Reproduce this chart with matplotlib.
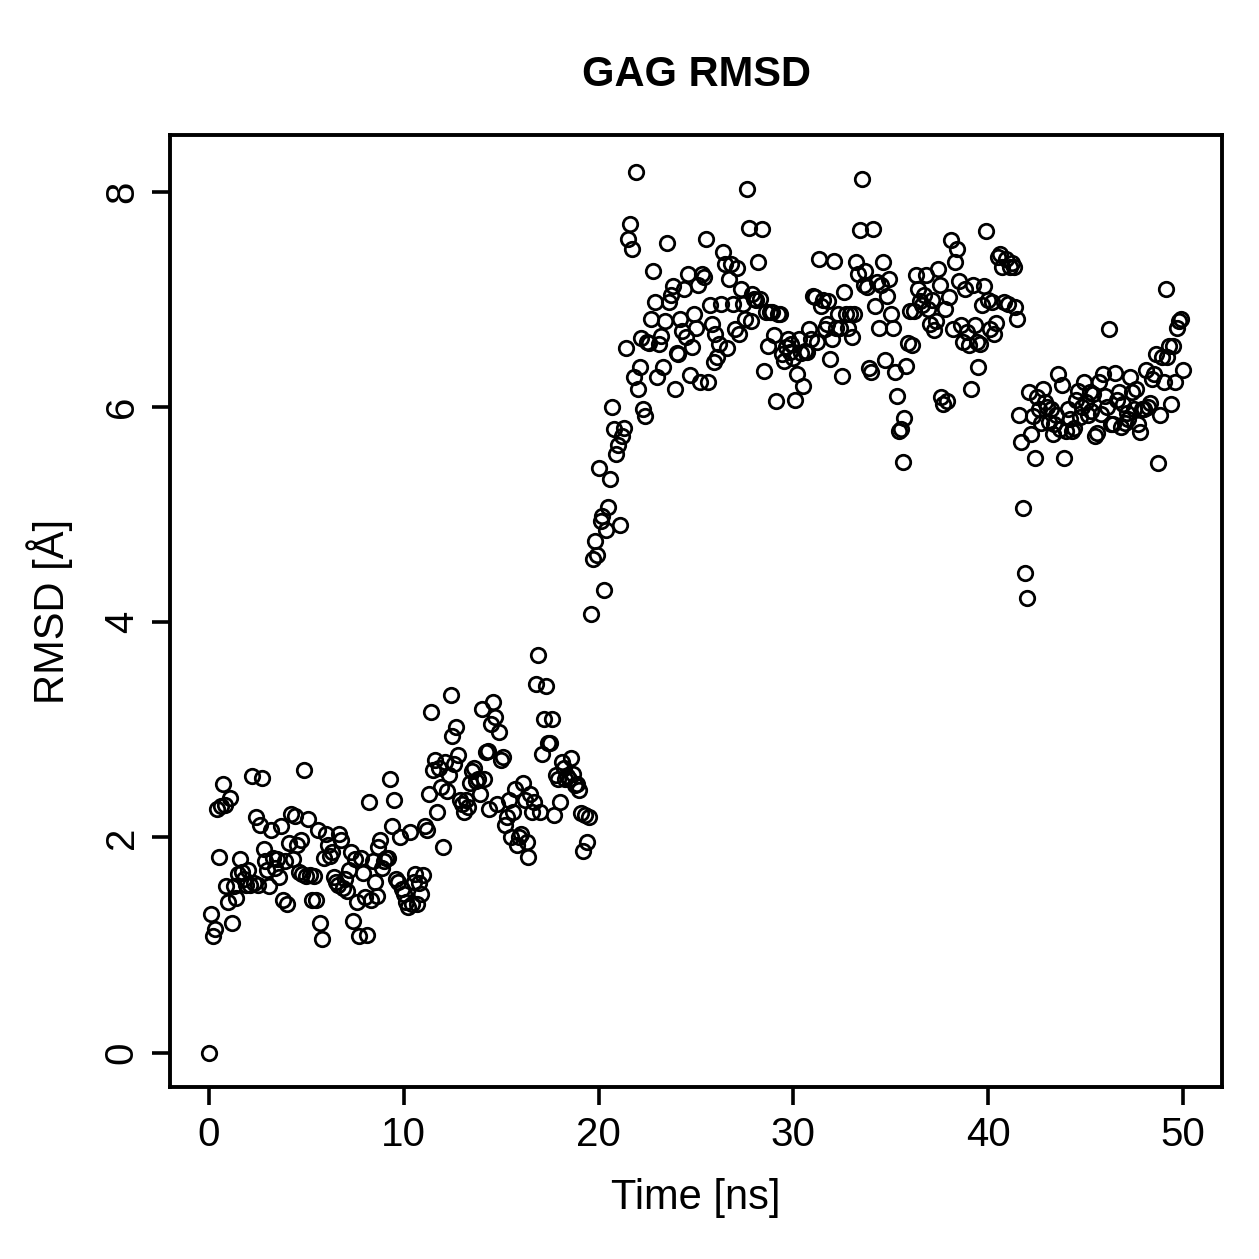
import numpy as np
import matplotlib
matplotlib.use("Agg")
import matplotlib.pyplot as plt

plt.rcParams['font.family'] = ['Liberation Sans', 'DejaVu Sans']

title = "GAG RMSD"
xlabel = "Time [ns]"
ylabel = "RMSD [Å]"
xticks = [0, 10, 20, 30, 40, 50]
yticks = [0, 2, 4, 6, 8]
dt_ns = 0.1

rmsd_0_10 = [
    0.00,
    1.29, 1.08, 1.15, 2.26, 1.82, 2.29, 2.50, 2.30, 1.55, 1.40,
    2.37, 1.20, 1.55, 1.44, 1.66, 1.80, 1.68, 1.61, 1.56, 1.70,
    1.56, 2.57, 1.58, 2.19, 1.56, 2.12, 2.55, 1.89, 1.78, 1.70,
    1.55, 2.07, 1.81, 1.72, 1.80, 1.63, 2.11, 1.42, 1.78, 1.38,
    1.95, 2.22, 1.80, 2.20, 1.93, 1.68, 1.98, 1.66, 2.63, 1.64,
    2.17, 1.65, 1.42, 1.64, 1.42, 2.07, 1.20, 1.06, 1.81, 2.03,
    1.93, 1.83, 1.86, 1.63, 1.59, 1.56, 2.03, 1.98, 1.53, 1.61,
    1.50, 1.70, 1.86, 1.22, 1.80, 1.40, 1.08, 1.81, 1.67, 1.45, 1.09,
    2.33, 1.42, 1.78, 1.59, 1.46, 1.91, 1.98, 1.72, 1.78, 1.81,
    1.81, 2.54, 2.11, 2.35, 1.61, 1.59, 2.00, 1.52, 1.47, 1.40,
]
rmsd_10_20 = [
    1.35, 2.05, 1.38, 1.59, 1.66, 1.38, 1.58, 1.47, 1.65, 2.11,
    2.07, 2.40, 3.17, 2.63, 2.72, 2.24, 2.65, 2.47, 1.91, 2.70,
    2.43, 2.58, 3.32, 2.94, 2.68, 3.03, 2.77, 2.35, 2.31, 2.24,
    2.35, 2.28, 2.51, 2.62, 2.65, 2.52, 2.54, 2.40, 3.19, 2.54, 2.79,
    2.80, 2.26, 3.05, 3.26, 3.12, 2.31, 2.98, 2.72, 2.75, 2.12,
    2.19, 2.35, 2.00, 2.24, 2.45, 1.93, 2.00, 2.03, 2.51, 2.35, 1.96,
    1.82, 2.40, 2.24, 2.33, 3.43, 3.70, 2.24, 2.78, 3.10, 3.41,
    2.88, 2.88, 3.10, 2.21, 2.58, 2.54, 2.33, 2.70, 2.65, 2.54, 2.57,
    2.54, 2.74, 2.59, 2.49, 2.50, 2.44, 2.23, 1.87, 2.21, 1.96, 2.19,
    4.08, 4.59, 4.76, 4.63, 5.43, 4.94, 4.99, 4.30, 4.86, 5.07,
]
rmsd_20_30 = [
    5.33, 6.00, 5.80, 5.56, 5.65, 4.90, 5.73, 5.81, 6.55, 7.56,
    7.70, 7.47, 6.28, 8.19, 6.17, 6.37, 6.64, 5.98, 5.92, 6.61,
    6.60, 6.82, 7.27, 6.98, 6.28, 6.59, 6.66, 6.37, 6.80, 7.53,
    6.98, 7.04, 7.13, 6.17, 6.50, 6.49, 6.82, 6.71, 7.10, 6.65,
    7.24, 6.30, 6.56, 6.87, 6.74, 7.14, 6.23, 7.24, 7.21, 7.56,
    6.23, 6.95, 6.77, 6.42, 6.68, 6.47, 6.59, 6.96, 7.44, 7.33,
    6.55, 7.19, 7.33, 6.96, 6.73, 7.29, 6.68, 7.10, 6.96, 6.82,
    8.03, 7.67, 6.80, 7.05, 7.01, 7.00, 7.35, 7.01, 7.66, 6.34,
    6.88, 6.57, 6.88, 6.88, 6.67, 6.06, 6.87, 6.87, 6.49, 6.43,
    6.56, 6.63, 6.51, 6.59, 6.46, 6.07, 6.31, 6.63, 6.50, 6.20,
]
rmsd_30_40 = [
    6.52, 6.51, 6.73, 6.63, 7.03, 7.02, 6.61, 7.38, 6.94, 7.00,
    6.73, 6.77, 6.99, 6.45, 6.63, 7.36, 6.74, 6.87, 6.74, 6.29,
    7.07, 6.87, 6.74, 6.87, 6.65, 6.87, 7.35, 7.24, 7.65, 8.12,
    7.14, 7.27, 7.12, 6.36, 6.33, 7.66, 6.94, 7.16, 6.74, 7.14,
    7.35, 6.44, 7.03, 7.19, 6.87, 6.74, 6.33, 6.10, 5.78, 5.80,
    5.49, 5.90, 6.38, 6.60, 6.89, 6.58, 6.89, 7.23, 7.10, 6.99,
    6.95, 7.04, 7.23, 6.91, 6.77, 7.00, 6.72, 6.80, 7.28, 7.14,
    6.09, 6.03, 6.91, 6.06, 7.02, 7.55, 6.73, 7.35, 7.47, 7.17,
    6.76, 6.61, 7.10, 6.70, 6.58, 6.17, 7.14, 6.76, 6.61, 6.37,
    6.59, 6.95, 7.13, 7.64, 7.00, 6.73, 6.98, 6.68, 6.78, 7.40,
]
rmsd_40_50 = [
    7.42, 7.30, 6.98, 7.38, 6.96, 7.30, 7.34, 7.30, 6.93, 6.82,
    5.93, 5.68, 5.06, 4.46, 4.23, 6.14, 5.75, 5.92, 5.53, 6.09,
    5.98, 5.85, 6.17, 6.05, 6.00, 5.86, 5.98, 5.75, 5.84, 5.93,
    6.31, 5.80, 6.21, 5.53, 5.78, 5.98, 5.89, 5.78, 5.81, 6.07,
    6.15, 5.91, 6.00, 6.23, 6.05, 5.93, 6.14, 5.96, 6.12, 5.73,
    5.76, 6.23, 5.94, 6.31, 6.10, 6.00, 6.73, 5.84, 5.84, 6.32, 6.07,
    6.14, 5.82, 6.03, 5.85, 5.95, 5.89, 6.28, 6.14, 5.98, 6.17, 5.84,
    5.77, 5.98, 5.98, 6.35, 6.00, 6.04, 6.26, 6.31, 6.49, 5.48, 5.93,
    6.47, 6.23, 7.10, 6.47, 6.57, 6.03, 6.57, 6.23, 6.74, 6.80,
    6.82, 6.35,
]

rmsd = np.array(rmsd_0_10 + rmsd_10_20 + rmsd_20_30 + rmsd_30_40 + rmsd_40_50)
time = np.arange(len(rmsd)) * dt_ns

W = H = 1259
fig = plt.figure(figsize=(W / 100, H / 100), dpi=100)
ax = fig.add_axes([170 / W, 1 - 1087 / H, (1222 - 170) / W, (1087 - 135) / H])

ax.plot(time, rmsd, linestyle='none', marker='o', markersize=10.4,
        markerfacecolor='none', markeredgecolor='black', markeredgewidth=2.0)

ax.set_xlim(-2.0, 52.0)
ax.set_ylim(-0.32, 8.53)
ax.set_xticks(xticks)
ax.set_yticks(yticks)
ax.set_xticklabels([str(v) for v in xticks])
ax.set_yticklabels([str(v) for v in yticks], rotation=90, va='center')

for s in ax.spines.values():
    s.set_linewidth(2.8)
ax.tick_params(axis='both', direction='out', length=13, width=2.6,
               labelsize=29, pad=8)

ax.set_title(title, fontsize=30, fontweight='bold', pad=35)
ax.set_xlabel(xlabel, fontsize=30)
ax.set_ylabel(ylabel, fontsize=30)
ax.xaxis.set_label_coords(0.5, -0.096)
ax.yaxis.set_label_coords(-0.092, 0.5)

fig.savefig("out.png", dpi=100, facecolor='white')
